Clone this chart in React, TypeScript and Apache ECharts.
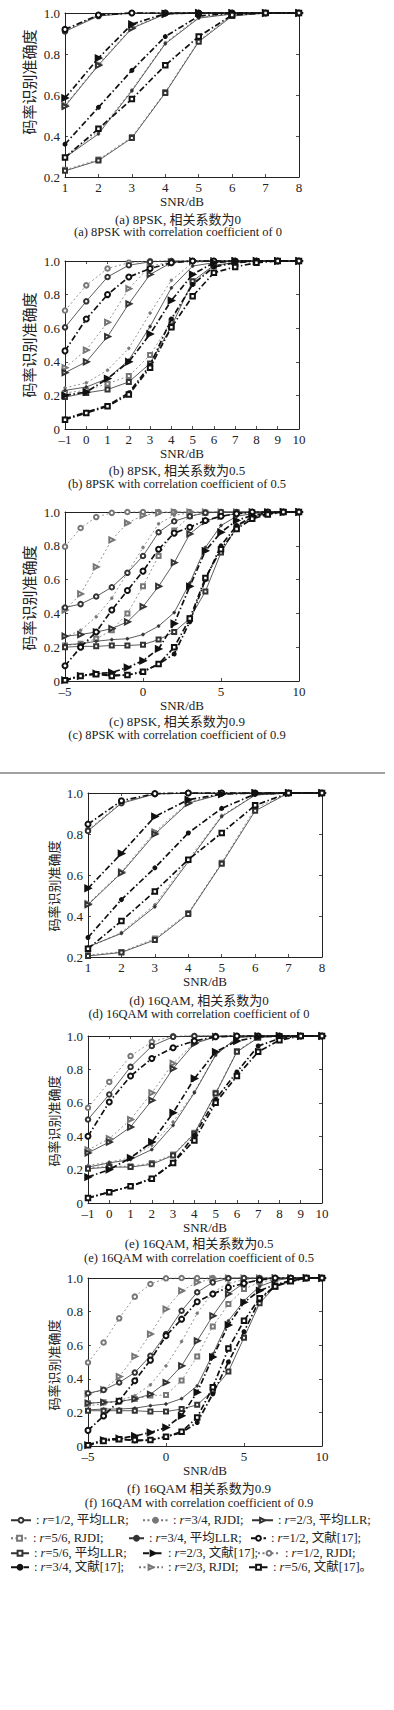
import React, { useEffect, useRef } from 'react';
import * as echarts from 'echarts';

const FONT = '"Liberation Serif", "Times New Roman", "Noto Sans CJK SC", serif';

// Series order used in every accuracy table below
const seriesKeys = ['r12LLR', 'r12RJDI', 'r12Ref', 'r23LLR', 'r23RJDI', 'r23Ref', 'r34LLR', 'r34RJDI', 'r34Ref', 'r56LLR', 'r56RJDI', 'r56Ref'];
const seriesNames = [
  'r=1/2, 平均LLR', 'r=1/2, RJDI', 'r=1/2, 文献[17]',
  'r=2/3, 平均LLR', 'r=2/3, RJDI', 'r=2/3, 文献[17]',
  'r=3/4, 平均LLR', 'r=3/4, RJDI', 'r=3/4, 文献[17]',
  'r=5/6, 平均LLR', 'r=5/6, RJDI', 'r=5/6, 文献[17]',
];
const legendOrder = ['r12LLR', 'r34RJDI', 'r23LLR', 'r56RJDI', 'r34LLR', 'r12Ref', 'r56LLR', 'r23Ref', 'r12RJDI', 'r34Ref', 'r23RJDI', 'r56Ref'];

// (a) 8PSK, rho = 0
const snrA = [1, 2, 3, 4, 5, 6, 7, 8];
const accA = [
  [0.91, 0.985, 1, 1, 1, 1, 1, 1],
  [0.915, 0.99, 1, 1, 1, 1, 1, 1],
  [0.92, 0.99, 1, 1, 1, 1, 1, 1],
  [0.545, 0.745, 0.925, 0.995, 1, 1, 1, 1],
  [0.55, 0.75, 0.93, 0.995, 1, 1, 1, 1],
  [0.585, 0.78, 0.945, 0.997, 1, 1, 1, 1],
  [0.295, 0.41, 0.62, 0.85, 0.975, 0.995, 1, 1],
  [0.3, 0.42, 0.625, 0.855, 0.98, 0.995, 1, 1],
  [0.36, 0.54, 0.72, 0.885, 0.985, 1, 1, 1],
  [0.23, 0.28, 0.39, 0.61, 0.86, 0.985, 1, 1],
  [0.235, 0.285, 0.395, 0.615, 0.865, 0.99, 1, 1],
  [0.295, 0.435, 0.58, 0.745, 0.885, 0.99, 1, 1],
];

// (b) 8PSK, rho = 0.5
const snrB = [-1, 0, 1, 2, 3, 4, 5, 6, 7, 8, 9, 10];
const accB = [
  [0.605, 0.76, 0.905, 0.975, 0.995, 1, 1, 1, 1, 1, 1, 1],
  [0.705, 0.855, 0.955, 0.99, 1, 1, 1, 1, 1, 1, 1, 1],
  [0.465, 0.655, 0.8, 0.905, 0.955, 0.99, 1, 1, 1, 1, 1, 1],
  [0.335, 0.4, 0.55, 0.745, 0.92, 0.99, 1, 1, 1, 1, 1, 1],
  [0.365, 0.47, 0.635, 0.835, 0.97, 0.995, 1, 1, 1, 1, 1, 1],
  [0.2, 0.22, 0.3, 0.4, 0.565, 0.765, 0.92, 0.99, 1, 1, 1, 1],
  [0.23, 0.25, 0.3, 0.41, 0.61, 0.84, 0.97, 0.99, 1, 1, 1, 1],
  [0.245, 0.275, 0.35, 0.48, 0.69, 0.885, 0.99, 1, 1, 1, 1, 1],
  [0.06, 0.1, 0.14, 0.215, 0.38, 0.655, 0.86, 0.965, 0.99, 1, 1, 1],
  [0.19, 0.215, 0.235, 0.28, 0.39, 0.61, 0.88, 0.975, 0.99, 1, 1, 1],
  [0.215, 0.23, 0.27, 0.315, 0.44, 0.64, 0.87, 0.97, 0.99, 1, 1, 1],
  [0.055, 0.095, 0.135, 0.205, 0.365, 0.605, 0.79, 0.93, 0.965, 0.99, 1, 1],
];

// (c) 8PSK, rho = 0.9
const snrC = [-5, -4, -3, -2, -1, 0, 1, 2, 3, 4, 5, 6, 7, 8, 9, 10];
const accC = [
  [0.435, 0.455, 0.5, 0.555, 0.64, 0.74, 0.88, 0.945, 0.975, 0.995, 1, 1, 1, 1, 1, 1],
  [0.795, 0.905, 0.97, 0.995, 1, 1, 1, 1, 1, 1, 1, 1, 1, 1, 1, 1],
  [0.09, 0.2, 0.29, 0.42, 0.535, 0.65, 0.78, 0.875, 0.91, 0.95, 0.975, 0.99, 1, 1, 1, 1],
  [0.265, 0.275, 0.29, 0.31, 0.35, 0.44, 0.56, 0.7, 0.87, 0.945, 0.975, 0.99, 1, 1, 1, 1],
  [0.42, 0.515, 0.675, 0.835, 0.935, 0.98, 0.995, 1, 1, 1, 1, 1, 1, 1, 1, 1],
  [0.005, 0.03, 0.045, 0.05, 0.08, 0.12, 0.19, 0.34, 0.56, 0.77, 0.88, 0.95, 0.98, 0.995, 1, 1],
  [0.215, 0.22, 0.235, 0.245, 0.25, 0.275, 0.325, 0.405, 0.58, 0.79, 0.92, 0.975, 0.99, 1, 1, 1],
  [0.26, 0.3, 0.38, 0.49, 0.64, 0.79, 0.93, 0.98, 0.995, 1, 1, 1, 1, 1, 1, 1],
  [0.005, 0.03, 0.045, 0.035, 0.035, 0.055, 0.1, 0.16, 0.35, 0.6, 0.8, 0.92, 0.97, 0.99, 1, 1],
  [0.2, 0.205, 0.205, 0.21, 0.21, 0.215, 0.245, 0.29, 0.37, 0.53, 0.76, 0.91, 0.97, 0.99, 1, 1],
  [0.21, 0.22, 0.25, 0.3, 0.4, 0.56, 0.74, 0.89, 0.975, 0.995, 1, 1, 1, 1, 1, 1],
  [0.005, 0.03, 0.04, 0.03, 0.035, 0.055, 0.1, 0.2, 0.37, 0.61, 0.78, 0.9, 0.96, 0.985, 1, 1],
];

// (d) 16QAM, rho = 0
const snrD = [1, 2, 3, 4, 5, 6, 7, 8];
const accD = [
  [0.815, 0.95, 0.995, 1, 1, 1, 1, 1],
  [0.82, 0.955, 0.995, 1, 1, 1, 1, 1],
  [0.848, 0.962, 0.997, 1, 1, 1, 1, 1],
  [0.455, 0.61, 0.8, 0.95, 0.995, 1, 1, 1],
  [0.46, 0.615, 0.81, 0.955, 0.995, 1, 1, 1],
  [0.535, 0.705, 0.885, 0.967, 0.995, 1, 1, 1],
  [0.25, 0.315, 0.445, 0.665, 0.885, 0.99, 1, 1],
  [0.245, 0.32, 0.455, 0.675, 0.89, 0.99, 1, 1],
  [0.295, 0.48, 0.635, 0.805, 0.925, 0.995, 1, 1],
  [0.205, 0.222, 0.283, 0.41, 0.655, 0.913, 1, 1],
  [0.21, 0.225, 0.29, 0.415, 0.66, 0.925, 1, 1],
  [0.24, 0.376, 0.52, 0.675, 0.805, 0.94, 1, 1],
];

// (e) 16QAM, rho = 0.5
const snrE = [-1, 0, 1, 2, 3, 4, 5, 6, 7, 8, 9, 10];
const accE = [
  [0.5, 0.65, 0.815, 0.94, 0.995, 1, 1, 1, 1, 1, 1, 1],
  [0.57, 0.725, 0.88, 0.965, 1, 1, 1, 1, 1, 1, 1, 1],
  [0.4, 0.605, 0.76, 0.865, 0.93, 0.97, 0.995, 1, 1, 1, 1, 1],
  [0.3, 0.365, 0.455, 0.615, 0.805, 0.955, 0.995, 1, 1, 1, 1, 1],
  [0.318, 0.385, 0.5, 0.66, 0.836, 0.96, 0.997, 1, 1, 1, 1, 1],
  [0.155, 0.2, 0.27, 0.365, 0.54, 0.745, 0.905, 0.97, 0.995, 1, 1, 1],
  [0.215, 0.24, 0.26, 0.32, 0.465, 0.66, 0.885, 0.99, 1, 1, 1, 1],
  [0.225, 0.245, 0.27, 0.345, 0.485, 0.665, 0.89, 0.99, 1, 1, 1, 1],
  [0.03, 0.066, 0.1, 0.148, 0.24, 0.405, 0.62, 0.785, 0.94, 0.985, 1, 1],
  [0.205, 0.215, 0.215, 0.232, 0.285, 0.415, 0.655, 0.905, 0.99, 1, 1, 1],
  [0.21, 0.22, 0.22, 0.24, 0.29, 0.42, 0.66, 0.91, 0.995, 1, 1, 1],
  [0.03, 0.065, 0.1, 0.145, 0.24, 0.375, 0.6, 0.76, 0.905, 0.975, 1, 1],
];

// (f) 16QAM, rho = 0.9
const snrF = [-5, -4, -3, -2, -1, 0, 1, 2, 3, 4, 5, 6, 7, 8, 9, 10];
const accF = [
  [0.314, 0.334, 0.378, 0.437, 0.537, 0.666, 0.805, 0.915, 0.974, 0.998, 1, 1, 1, 1, 1, 1],
  [0.497, 0.616, 0.76, 0.889, 0.964, 0.998, 1, 1, 1, 1, 1, 1, 1, 1, 1, 1],
  [0.093, 0.179, 0.268, 0.388, 0.511, 0.656, 0.755, 0.859, 0.905, 0.944, 0.968, 0.988, 1, 1, 1, 1],
  [0.255, 0.26, 0.265, 0.28, 0.308, 0.378, 0.477, 0.626, 0.775, 0.905, 0.97, 0.99, 1, 1, 1, 1],
  [0.31, 0.335, 0.413, 0.533, 0.666, 0.815, 0.924, 0.974, 0.994, 1, 1, 1, 1, 1, 1, 1],
  [0.005, 0.035, 0.045, 0.06, 0.08, 0.11, 0.18, 0.32, 0.53, 0.72, 0.855, 0.925, 0.96, 0.985, 1, 1],
  [0.215, 0.22, 0.22, 0.225, 0.24, 0.25, 0.282, 0.358, 0.547, 0.745, 0.865, 0.95, 0.985, 1, 1, 1],
  [0.24, 0.25, 0.27, 0.3, 0.364, 0.477, 0.622, 0.79, 0.915, 0.968, 0.99, 1, 1, 1, 1, 1],
  [0.005, 0.035, 0.045, 0.03, 0.035, 0.055, 0.08, 0.14, 0.31, 0.5, 0.68, 0.87, 0.955, 0.98, 1, 1],
  [0.21, 0.21, 0.21, 0.21, 0.205, 0.205, 0.22, 0.245, 0.33, 0.443, 0.645, 0.85, 0.95, 0.985, 1, 1],
  [0.255, 0.26, 0.265, 0.28, 0.3, 0.304, 0.39, 0.533, 0.712, 0.845, 0.934, 0.975, 0.99, 1, 1, 1],
  [0.005, 0.03, 0.04, 0.035, 0.035, 0.055, 0.085, 0.17, 0.35, 0.58, 0.745, 0.88, 0.95, 0.98, 1, 1],
];

const captions1 = ['(a) 8PSK, 相关系数为0', '(b) 8PSK, 相关系数为0.5', '(c) 8PSK, 相关系数为0.9', '(d) 16QAM, 相关系数为0', '(e) 16QAM, 相关系数为0.5', '(f) 16QAM 相关系数为0.9'];
const captions2 = ['(a) 8PSK with correlation coefficient of 0', '(b) 8PSK with correlation coefficient of 0.5', '(c) 8PSK with correlation coefficient of 0.9', '(d) 16QAM with correlation coefficient of 0', '(e) 16QAM with correlation coefficient of 0.5', '(f) 16QAM with correlation coefficient of 0.9'];
const yAxisTitle = '码率识别准确度';
const xAxisTitle = 'SNR/dB';

const panelData = [
  { snr: snrA, acc: accA, xMin: 1, xMax: 8, xInt: 1, yMin: 0.2 },
  { snr: snrB, acc: accB, xMin: -1, xMax: 10, xInt: 1, yMin: 0 },
  { snr: snrC, acc: accC, xMin: -5, xMax: 10, xInt: 5, yMin: 0 },
  { snr: snrD, acc: accD, xMin: 1, xMax: 8, xInt: 1, yMin: 0.2 },
  { snr: snrE, acc: accE, xMin: -1, xMax: 10, xInt: 1, yMin: 0 },
  { snr: snrF, acc: accF, xMin: -5, xMax: 10, xInt: 5, yMin: 0 },
];

// layout (pixels)
const layout = [
  { left: 65, top: 13, width: 234, height: 164, capX: 178, capY1: 219, capY2: 232, ylX: 28, ylY: 82, ylSize: 15 },
  { left: 65, top: 261, width: 234, height: 168, capX: 177, capY1: 470, capY2: 484, ylX: 28, ylY: 345, ylSize: 15 },
  { left: 65, top: 512, width: 234, height: 169, capX: 177, capY1: 721, capY2: 735, ylX: 28, ylY: 598, ylSize: 15 },
  { left: 88, top: 793, width: 234, height: 164, capX: 199, capY1: 1000, capY2: 1014, ylX: 53, ylY: 886, ylSize: 13 },
  { left: 88, top: 1036, width: 234, height: 167, capX: 199, capY1: 1243, capY2: 1258, ylX: 53, ylY: 1121, ylSize: 13 },
  { left: 88, top: 1278, width: 234, height: 168, capX: 199, capY1: 1488, capY2: 1503, ylX: 53, ylY: 1365, ylSize: 13 },
];
// [left, top, icon width]
const legendPos = [
  [10, 1514, 20], [142, 1514, 25], [251, 1514, 21],
  [10, 1532, 17], [128, 1532, 15], [250, 1532, 15],
  [10, 1547, 18], [142, 1547, 20], [257, 1547, 22],
  [10, 1561, 18], [138, 1561, 24], [248, 1561, 19],
];

function styleFor(key: string) {
  const rate = key.slice(1, 3);
  const method = key.slice(3);
  const color = method === 'Ref' ? '#111' : method === 'LLR' ? '#333' : '#777';
  const lineStyle: any = method === 'Ref'
    ? { type: [6, 2.5, 1.5, 2.5], width: 1.7, color }
    : method === 'LLR'
      ? { type: 'solid', width: 0.8, color }
      : { type: [2, 2.5], width: 0.8, color };
  let symbol = 'emptyCircle';
  let size = 4.5;
  let rotate = 0;
  if (rate === '12') { symbol = 'emptyCircle'; size = method === 'Ref' ? 5 : 4.5; }
  if (rate === '23') { symbol = method === 'Ref' ? 'triangle' : 'emptyTriangle'; size = method === 'Ref' ? 6 : 5; rotate = -90; }
  if (rate === '34') { symbol = 'circle'; size = method === 'Ref' ? 3.5 : 2.8; }
  if (rate === '56') { symbol = 'emptyRect'; size = method === 'Ref' ? 4.5 : 4; }
  const borderWidth = method === 'Ref' ? 1.5 : 0.7;
  const z = method === 'Ref' ? 4 : method === 'LLR' ? 3 : 2;
  return { lineStyle, symbol, size, rotate, color, borderWidth, z };
}

export default function App() {
  const ref = useRef<HTMLDivElement>(null);
  useEffect(() => {
    if (!ref.current) return;
    const chart = echarts.init(ref.current, undefined, { renderer: 'svg' });
    const grid: any[] = [];
    const xAxis: any[] = [];
    const yAxis: any[] = [];
    const series: any[] = [];
    const graphic: any[] = [];
    const axisColor = '#222';
    const tickFont = { fontFamily: FONT, fontSize: 13, color: '#222' };

    panelData.forEach((p, i) => {
      const L = layout[i];
      grid.push({ left: L.left, top: L.top, width: L.width, height: L.height, show: false });
      const xCommon = {
        type: 'value', gridIndex: i, min: p.xMin, max: p.xMax, interval: p.xInt,
        splitLine: { show: false },
        axisLine: { show: true, onZero: false, lineStyle: { color: axisColor, width: 1 } },
        axisTick: { show: true, inside: true, length: 3, lineStyle: { color: axisColor, width: 0.8 } },
      };
      xAxis.push({
        ...xCommon, position: 'bottom',
        axisLabel: { ...tickFont, margin: 4, formatter: (v: number) => (v < 0 ? '\u2013' + Math.abs(v) : String(v)) },
        name: xAxisTitle, nameLocation: 'middle', nameGap: 18,
        nameTextStyle: { fontFamily: FONT, fontSize: 13, color: '#222' },
      });
      xAxis.push({ ...xCommon, position: 'top', axisLabel: { show: false } });
      const yCommon = {
        type: 'value', gridIndex: i, min: p.yMin, max: 1, interval: 0.2,
        splitLine: { show: false },
        axisLine: { show: true, onZero: false, lineStyle: { color: axisColor, width: 1 } },
        axisTick: { show: true, inside: true, length: 3, lineStyle: { color: axisColor, width: 0.8 } },
      };
      yAxis.push({
        ...yCommon, position: 'left',
        axisLabel: { ...tickFont, margin: 5, formatter: (v: number) => (Math.abs(v) < 1e-9 ? '0' : v.toFixed(1)) },
      });
      yAxis.push({ ...yCommon, position: 'right', axisLabel: { show: false } });

      seriesKeys.forEach((key, k) => {
        const s = styleFor(key);
        series.push({
          type: 'line', name: seriesNames[k], xAxisIndex: 2 * i, yAxisIndex: 2 * i,
          data: p.snr.map((x, j) => [x, p.acc[k][j]]),
          symbol: s.symbol, symbolSize: s.size, symbolRotate: s.rotate, showSymbol: true,
          lineStyle: s.lineStyle,
          itemStyle: { color: s.color, borderColor: s.color, borderWidth: s.borderWidth },
          emphasis: { disabled: true }, z: s.z, clip: false,
        });
      });

      graphic.push({
        type: 'text', x: L.ylX, y: L.ylY, rotation: Math.PI / 2,
        style: { text: yAxisTitle, fontFamily: '"Noto Sans CJK SC", sans-serif', fontSize: L.ylSize, fill: '#222', align: 'center', verticalAlign: 'middle' },
      });
      graphic.push({
        type: 'text', x: L.capX, y: L.capY1,
        style: { text: captions1[i], fontFamily: FONT, fontSize: 13, fill: '#222', align: 'center', verticalAlign: 'middle' },
      });
      graphic.push({
        type: 'text', x: L.capX, y: L.capY2,
        style: { text: captions2[i], fontFamily: FONT, fontSize: 12.5, fill: '#222', align: 'center', verticalAlign: 'middle' },
      });
    });

    graphic.push({
      type: 'line', shape: { x1: 0, y1: 773, x2: 385, y2: 773 },
      style: { stroke: '#444', lineWidth: 1.2 },
    });

    const legend = legendOrder.map((key, idx) => {
      const name = seriesNames[seriesKeys.indexOf(key)];
      const last = idx === legendOrder.length - 1;
      return {
        show: true, left: legendPos[idx][0], top: legendPos[idx][1],
        padding: 0, itemWidth: legendPos[idx][2], itemHeight: 6, itemGap: 0,
        selectedMode: false, data: [name],
        formatter: (n: string) => ': {i|r}' + n.slice(1) + (last ? '。' : ';'),
        textStyle: {
          fontFamily: FONT, fontSize: 12.5, color: '#222',
          rich: { i: { fontFamily: FONT, fontSize: 12.5, fontStyle: 'italic', color: '#222' } },
        },
      };
    });

    chart.setOption({
      animation: false,
      backgroundColor: '#fff',
      grid, xAxis, yAxis, series, graphic, legend,
    });
    return () => chart.dispose();
  }, []);
  return <div ref={ref} style={{ position: 'absolute', left: 0, top: 0, width: 394, height: 1710 }} />;
}
